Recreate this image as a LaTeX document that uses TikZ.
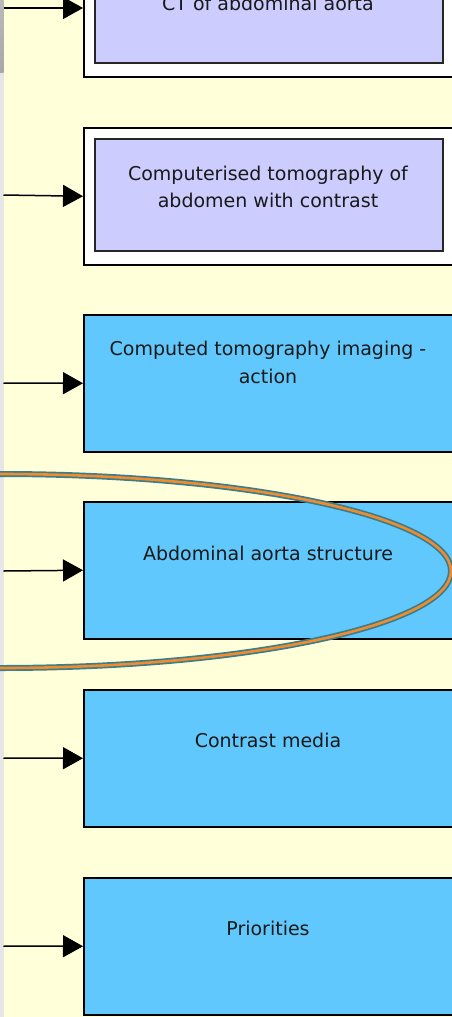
\documentclass[tikz,border=0pt]{standalone}
\usepackage{fontspec}
\setmainfont{DejaVu Sans}
\usetikzlibrary{arrows.meta}
\definecolor{bgyellow}{HTML}{FFFFD9}
\definecolor{lav}{HTML}{CCCCFF}
\definecolor{skyb}{HTML}{60C8FC}
\definecolor{teal}{HTML}{3A7E8C}
\definecolor{orng}{HTML}{F28A2E}
\definecolor{leftgrey}{HTML}{E6E6E6}
\definecolor{darkgrey}{HTML}{A8A8A8}
\tikzset{
  outerbox/.style={draw=black, line width=1.5pt, fill=white, minimum width=370pt, minimum height=137pt, anchor=north west, inner sep=0pt},
  innerbox/.style={draw=black!85, line width=2pt, fill=lav, minimum width=348pt, minimum height=112pt, anchor=north west, inner sep=0pt},
  bluebox/.style={draw=black, line width=1.5pt, fill=skyb, minimum width=370pt, minimum height=137pt, anchor=north west, inner sep=0pt},
  lbl/.style={font=\fontsize{19}{28}\selectfont, text=black!90, anchor=base, inner sep=0pt},
  conn/.style={draw=black, line width=1.5pt, -{Triangle[length=20pt,width=22pt]}},
}
\begin{document}
\begin{tikzpicture}[x=1pt,y=-1pt]
\useasboundingbox (0,0) rectangle (452,1017);
\clip (0,0) rectangle (452,1017);
\fill[bgyellow] (0,0) rectangle (452,1017);
\fill[leftgrey] (0,0) rectangle (3.5,1017);
\shade[top color=darkgrey!80, bottom color=darkgrey] (0,0) rectangle (3.5,72);

% box 1
\node[outerbox] (o1) at (83,-61) {};
\node[innerbox] (b1) at (94,-50) {};
\node[lbl] (t1) at (268,10) {CT of abdominal aorta};
% box 2
\node[outerbox] (o2) at (83,127) {};
\node[innerbox] (b2) at (94,138) {};
\node[lbl] (t2a) at (268,180) {Computerised tomography of};
\node[lbl] (t2b) at (268,207) {abdomen with contrast};
% box 3
\node[bluebox] (b3) at (83,314) {};
\node[lbl] (t3a) at (268,355) {Computed tomography imaging -};
\node[lbl] (t3b) at (268,383) {action};
% box 4
\node[bluebox] (b4) at (83,501) {};
\node[lbl] (t4) at (268,560) {Abdominal aorta structure};
% box 5
\node[bluebox] (b5) at (83,689) {};
\node[lbl] (t5) at (268,747) {Contrast media};
% box 6
\node[bluebox] (b6) at (83,877) {};
\node[lbl] (t6) at (268,935) {Priorities};

% connectors
\coordinate (s1) at (3.5,8);
\coordinate (s2) at (3.5,195);
\coordinate (s3) at (3.5,383);
\coordinate (s4) at (3.5,571);
\coordinate (s5) at (3.5,758);
\coordinate (s6) at (3.5,946);
\draw[conn] (s1) -- (o1.west |- s1);
\draw[conn] (s2) -- (o2.west);
\draw[conn] (s3) -- (b3.west);
\draw[conn] (s4) -- (b4.west);
\draw[conn] (s5) -- (b5.west);
\draw[conn] (s6) -- (b6.west);

% highlight ellipse
\draw[teal, line width=6pt] (0,571) ellipse [x radius=451, y radius=97];
\draw[orng, line width=2.6pt] (0,571) ellipse [x radius=451, y radius=97];
\end{tikzpicture}
\end{document}
